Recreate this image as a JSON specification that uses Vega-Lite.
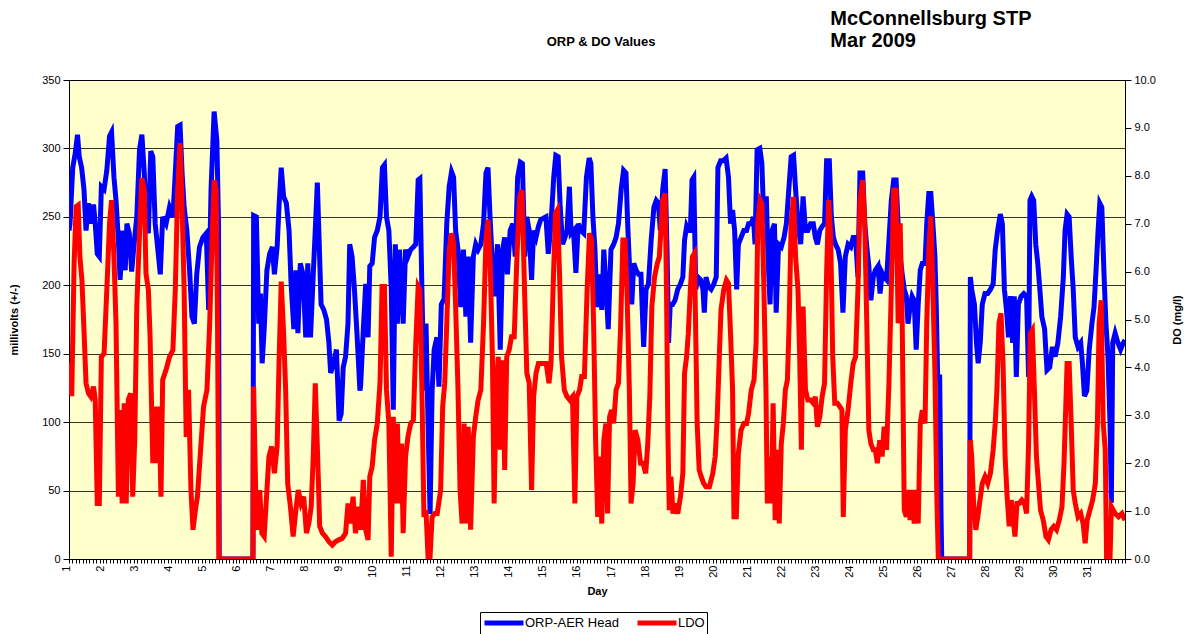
{
"$schema":"https://vega.github.io/schema/vega-lite/v6.json",
"width":1056,"height":479,
"autosize":{"type":"none"},
"padding":{"left":69,"top":80,"right":61,"bottom":75},
"background":"#ffffff",
"config":{"font":"Liberation Sans","view":{"fill":"#FFFFCC","stroke":"#000000","strokeWidth":1},
"axis":{"labelColor":"#000","titleColor":"#000","domainColor":"#000","tickColor":"#000","labelFontSize":11,"titleFontSize":11,"titleFontWeight":"bold"}},
"datasets":{
"orp":[
{"day":1.0,"orp":240},{"day":1.03,"orp":245},{"day":1.11,"orp":286},{"day":1.18,"orp":296},{"day":1.25,"orp":310},{"day":1.30,"orp":294},{"day":1.37,"orp":286},{"day":1.44,"orp":270},{"day":1.50,"orp":240},{"day":1.57,"orp":260},{"day":1.64,"orp":245},{"day":1.72,"orp":259},{"day":1.77,"orp":245},{"day":1.83,"orp":223},{"day":1.89,"orp":221},{"day":1.95,"orp":272},{"day":2.03,"orp":270},{"day":2.11,"orp":284},{"day":2.19,"orp":309},{"day":2.25,"orp":312},{"day":2.32,"orp":279},{"day":2.38,"orp":262},{"day":2.45,"orp":233},{"day":2.50,"orp":204},{"day":2.58,"orp":240},{"day":2.65,"orp":211},{"day":2.70,"orp":245},{"day":2.77,"orp":238},{"day":2.84,"orp":210},{"day":2.91,"orp":230},{"day":2.99,"orp":250},{"day":3.07,"orp":299},{"day":3.14,"orp":310},{"day":3.21,"orp":282},{"day":3.26,"orp":250},{"day":3.33,"orp":238},{"day":3.40,"orp":298},{"day":3.46,"orp":294},{"day":3.53,"orp":245},{"day":3.60,"orp":228},{"day":3.68,"orp":208},{"day":3.75,"orp":250},{"day":3.85,"orp":245},{"day":3.95,"orp":257},{"day":4.05,"orp":250},{"day":4.12,"orp":282},{"day":4.19,"orp":316},{"day":4.26,"orp":317},{"day":4.32,"orp":282},{"day":4.38,"orp":257},{"day":4.46,"orp":240},{"day":4.54,"orp":211},{"day":4.61,"orp":177},{"day":4.68,"orp":172},{"day":4.75,"orp":208},{"day":4.83,"orp":228},{"day":4.93,"orp":235},{"day":5.03,"orp":238},{"day":5.10,"orp":182},{"day":5.17,"orp":270},{"day":5.26,"orp":327},{"day":5.34,"orp":306},{"day":5.39,"orp":245},{"day":5.41,"orp":0},{"day":6.40,"orp":0},{"day":6.42,"orp":251},{"day":6.50,"orp":250},{"day":6.57,"orp":172},{"day":6.62,"orp":194},{"day":6.67,"orp":143},{"day":6.73,"orp":168},{"day":6.81,"orp":211},{"day":6.89,"orp":223},{"day":6.97,"orp":228},{"day":7.03,"orp":208},{"day":7.11,"orp":228},{"day":7.17,"orp":260},{"day":7.23,"orp":286},{"day":7.30,"orp":265},{"day":7.38,"orp":260},{"day":7.46,"orp":240},{"day":7.52,"orp":201},{"day":7.60,"orp":168},{"day":7.66,"orp":211},{"day":7.72,"orp":165},{"day":7.79,"orp":216},{"day":7.87,"orp":208},{"day":7.95,"orp":162},{"day":8.01,"orp":216},{"day":8.09,"orp":162},{"day":8.17,"orp":208},{"day":8.22,"orp":235},{"day":8.29,"orp":275},{"day":8.34,"orp":235},{"day":8.40,"orp":186},{"day":8.48,"orp":182},{"day":8.56,"orp":175},{"day":8.63,"orp":158},{"day":8.68,"orp":136},{"day":8.77,"orp":143},{"day":8.85,"orp":153},{"day":8.93,"orp":101},{"day":8.99,"orp":106},{"day":9.05,"orp":140},{"day":9.12,"orp":148},{"day":9.19,"orp":172},{"day":9.24,"orp":230},{"day":9.31,"orp":221},{"day":9.38,"orp":197},{"day":9.46,"orp":162},{"day":9.54,"orp":123},
{"day":9.56,"orp":126},{"day":9.64,"orp":168},{"day":9.71,"orp":201},{"day":9.78,"orp":162},{"day":9.83,"orp":214},{"day":9.90,"orp":216},{"day":9.97,"orp":235},{"day":10.05,"orp":240},{"day":10.13,"orp":250},{"day":10.20,"orp":286},{"day":10.26,"orp":288},{"day":10.32,"orp":250},{"day":10.39,"orp":240},{"day":10.46,"orp":197},{"day":10.52,"orp":109},{"day":10.58,"orp":230},{"day":10.64,"orp":172},{"day":10.70,"orp":226},{"day":10.76,"orp":197},{"day":10.81,"orp":172},{"day":10.88,"orp":226},{"day":10.95,"orp":221},{"day":11.03,"orp":226},{"day":11.11,"orp":228},{"day":11.18,"orp":230},{"day":11.25,"orp":277},{"day":11.30,"orp":278},{"day":11.36,"orp":197},{"day":11.42,"orp":123},{"day":11.48,"orp":172},{"day":11.54,"orp":99},{"day":11.60,"orp":33},{"day":11.66,"orp":123},{"day":11.72,"orp":153},{"day":11.80,"orp":162},{"day":11.86,"orp":126},{"day":11.93,"orp":186},{"day":12.01,"orp":190},{"day":12.09,"orp":245},{"day":12.16,"orp":272},{"day":12.23,"orp":283},{"day":12.29,"orp":279},{"day":12.35,"orp":240},{"day":12.42,"orp":226},{"day":12.50,"orp":184},{"day":12.58,"orp":226},{"day":12.65,"orp":177},{"day":12.72,"orp":221},{"day":12.79,"orp":158},{"day":12.87,"orp":221},{"day":12.94,"orp":230},{"day":13.01,"orp":226},{"day":13.09,"orp":230},{"day":13.17,"orp":245},{"day":13.24,"orp":282},{"day":13.30,"orp":286},{"day":13.36,"orp":250},{"day":13.43,"orp":216},{"day":13.50,"orp":192},{"day":13.58,"orp":230},{"day":13.66,"orp":153},{"day":13.73,"orp":226},{"day":13.79,"orp":235},{"day":13.87,"orp":208},{"day":13.95,"orp":240},{"day":14.03,"orp":245},{"day":14.10,"orp":221},{"day":14.17,"orp":279},{"day":14.25,"orp":290},{"day":14.31,"orp":289},{"day":14.38,"orp":221},{"day":14.44,"orp":250},{"day":14.51,"orp":240},{"day":14.58,"orp":204},{"day":14.64,"orp":240},{"day":14.71,"orp":235},{"day":14.78,"orp":243},{"day":14.85,"orp":248},{"day":14.93,"orp":249},{"day":15.00,"orp":250},{"day":15.07,"orp":223},{"day":15.15,"orp":245},{"day":15.23,"orp":279},{"day":15.29,"orp":295},{"day":15.36,"orp":294},{"day":15.42,"orp":257},{"day":15.49,"orp":230},{"day":15.56,"orp":235},{"day":15.62,"orp":240},{"day":15.69,"orp":272},{"day":15.74,"orp":238},{"day":15.81,"orp":240},{"day":15.88,"orp":209},{"day":15.95,"orp":245},{"day":16.03,"orp":240},{"day":16.11,"orp":238},{"day":16.19,"orp":279},{"day":16.27,"orp":293},{"day":16.32,"orp":289},{"day":16.38,"orp":250},{"day":16.44,"orp":226},{"day":16.50,"orp":184},{"day":16.57,"orp":208},{"day":16.64,"orp":182},{"day":16.70,"orp":226},{"day":16.77,"orp":197},{"day":16.83,"orp":168},{"day":16.91,"orp":226},{"day":16.99,"orp":230},{"day":17.06,"orp":235},{"day":17.13,"orp":245},{"day":17.21,"orp":270},{"day":17.28,"orp":284},{"day":17.35,"orp":282},{"day":17.40,"orp":245},{"day":17.46,"orp":211},{"day":17.52,"orp":186},{"day":17.58,"orp":216},{"day":17.65,"orp":211},{"day":17.72,"orp":208},{"day":17.79,"orp":208},{"day":17.87,"orp":155},{"day":17.94,"orp":197},{"day":18.01,"orp":201},{"day":18.09,"orp":233},{"day":18.17,"orp":257},{"day":18.24,"orp":262},{"day":18.30,"orp":260},{"day":18.36,"orp":240},
{"day":18.43,"orp":270},{"day":18.50,"orp":285},{"day":18.56,"orp":221},{"day":18.60,"orp":158},{"day":18.65,"orp":186},{"day":18.72,"orp":186},{"day":18.79,"orp":189},{"day":18.87,"orp":197},{"day":18.95,"orp":201},{"day":19.02,"orp":206},{"day":19.07,"orp":233},{"day":19.13,"orp":243},{"day":19.18,"orp":240},{"day":19.24,"orp":240},{"day":19.29,"orp":277},{"day":19.34,"orp":279},{"day":19.40,"orp":197},{"day":19.46,"orp":206},{"day":19.54,"orp":204},{"day":19.61,"orp":197},{"day":19.65,"orp":180},{"day":19.70,"orp":206},{"day":19.77,"orp":199},{"day":19.85,"orp":197},{"day":19.93,"orp":201},{"day":20.00,"orp":206},{"day":20.05,"orp":286},{"day":20.13,"orp":291},{"day":20.20,"orp":291},{"day":20.29,"orp":293},{"day":20.36,"orp":279},{"day":20.42,"orp":245},{"day":20.48,"orp":255},{"day":20.54,"orp":240},{"day":20.60,"orp":197},{"day":20.65,"orp":230},{"day":20.73,"orp":235},{"day":20.81,"orp":240},{"day":20.89,"orp":240},{"day":20.95,"orp":245},{"day":21.03,"orp":245},{"day":21.09,"orp":250},{"day":21.14,"orp":230},{"day":21.20,"orp":299},{"day":21.28,"orp":300},{"day":21.34,"orp":289},{"day":21.40,"orp":245},{"day":21.47,"orp":265},{"day":21.52,"orp":221},{"day":21.58,"orp":186},{"day":21.64,"orp":240},{"day":21.71,"orp":245},{"day":21.76,"orp":180},{"day":21.83,"orp":230},{"day":21.91,"orp":228},{"day":21.99,"orp":235},{"day":22.06,"orp":245},{"day":22.13,"orp":270},{"day":22.20,"orp":294},{"day":22.27,"orp":295},{"day":22.33,"orp":270},{"day":22.40,"orp":245},{"day":22.48,"orp":230},{"day":22.55,"orp":265},{"day":22.62,"orp":240},{"day":22.69,"orp":240},{"day":22.77,"orp":245},{"day":22.85,"orp":245},{"day":22.91,"orp":235},{"day":22.97,"orp":230},{"day":23.04,"orp":240},{"day":23.11,"orp":243},{"day":23.18,"orp":245},{"day":23.24,"orp":291},{"day":23.32,"orp":291},{"day":23.38,"orp":250},{"day":23.44,"orp":235},{"day":23.50,"orp":230},{"day":23.58,"orp":226},{"day":23.65,"orp":216},{"day":23.72,"orp":180},{"day":23.79,"orp":221},{"day":23.87,"orp":230},{"day":23.95,"orp":228},{"day":24.02,"orp":235},{"day":24.09,"orp":235},{"day":24.16,"orp":206},{"day":24.22,"orp":282},{"day":24.30,"orp":282},{"day":24.36,"orp":245},{"day":24.42,"orp":228},{"day":24.48,"orp":214},{"day":24.54,"orp":189},{"day":24.61,"orp":206},{"day":24.67,"orp":211},{"day":24.75,"orp":214},{"day":24.81,"orp":194},{"day":24.87,"orp":209},{"day":24.93,"orp":206},{"day":25.00,"orp":204},{"day":25.07,"orp":233},{"day":25.14,"orp":262},{"day":25.21,"orp":277},{"day":25.28,"orp":277},{"day":25.34,"orp":245},{"day":25.40,"orp":221},{"day":25.46,"orp":208},{"day":25.52,"orp":197},{"day":25.58,"orp":192},{"day":25.63,"orp":172},{"day":25.69,"orp":184},{"day":25.75,"orp":192},{"day":25.81,"orp":189},{"day":25.87,"orp":153},{"day":25.93,"orp":186},{"day":25.99,"orp":211},{"day":26.05,"orp":216},{"day":26.13,"orp":216},{"day":26.18,"orp":245},{"day":26.24,"orp":267},{"day":26.30,"orp":267},{"day":26.36,"orp":245},{"day":26.42,"orp":221},{"day":26.46,"orp":184},{"day":26.50,"orp":133},{"day":26.56,"orp":133},{"day":26.60,"orp":31},{"day":26.62,"orp":0},
{"day":27.44,"orp":0},{"day":27.46,"orp":206},{"day":27.50,"orp":197},{"day":27.58,"orp":186},{"day":27.64,"orp":158},{"day":27.69,"orp":143},{"day":27.75,"orp":158},{"day":27.81,"orp":186},{"day":27.89,"orp":194},{"day":27.97,"orp":194},{"day":28.05,"orp":197},{"day":28.13,"orp":201},{"day":28.19,"orp":226},{"day":28.26,"orp":240},{"day":28.34,"orp":252},{"day":28.40,"orp":245},{"day":28.46,"orp":197},{"day":28.52,"orp":182},{"day":28.58,"orp":162},{"day":28.64,"orp":192},{"day":28.70,"orp":158},{"day":28.75,"orp":192},{"day":28.81,"orp":133},{"day":28.87,"orp":186},{"day":28.95,"orp":192},{"day":29.03,"orp":194},{"day":29.11,"orp":192},{"day":29.17,"orp":133},{"day":29.21,"orp":262},{"day":29.26,"orp":265},{"day":29.32,"orp":262},{"day":29.38,"orp":230},{"day":29.44,"orp":216},{"day":29.50,"orp":197},{"day":29.56,"orp":177},{"day":29.64,"orp":168},{"day":29.71,"orp":138},{"day":29.79,"orp":140},{"day":29.87,"orp":155},{"day":29.95,"orp":148},{"day":30.03,"orp":158},{"day":30.11,"orp":177},{"day":30.19,"orp":206},{"day":30.24,"orp":240},{"day":30.30,"orp":252},{"day":30.36,"orp":250},{"day":30.42,"orp":221},{"day":30.48,"orp":197},{"day":30.54,"orp":162},{"day":30.62,"orp":155},{"day":30.70,"orp":158},{"day":30.75,"orp":143},{"day":30.81,"orp":119},{"day":30.88,"orp":123},{"day":30.95,"orp":153},{"day":31.03,"orp":172},{"day":31.09,"orp":184},{"day":31.15,"orp":211},{"day":31.21,"orp":240},{"day":31.26,"orp":260},{"day":31.32,"orp":257},{"day":31.38,"orp":211},{"day":31.44,"orp":172},{"day":31.50,"orp":148},{"day":31.56,"orp":99},{"day":31.60,"orp":41},{"day":31.64,"orp":158},{"day":31.71,"orp":165},{"day":31.79,"orp":158},{"day":31.87,"orp":153},{"day":31.95,"orp":158},{"day":32.0,"orp":160}
],
"do":[
{"day":1.0,"do":4.1},{"day":1.03,"do":4.0},{"day":1.08,"do":3.4},{"day":1.15,"do":6.17},{"day":1.21,"do":7.36},{"day":1.27,"do":7.39},{"day":1.32,"do":6.31},{"day":1.38,"do":5.82},{"day":1.44,"do":4.78},{"day":1.50,"do":3.67},{"day":1.57,"do":3.46},{"day":1.64,"do":3.39},{"day":1.72,"do":3.6},{"day":1.77,"do":3.32},{"day":1.83,"do":1.16},{"day":1.89,"do":1.16},{"day":1.95,"do":4.22},{"day":2.03,"do":4.29},{"day":2.11,"do":5.62},{"day":2.19,"do":7.01},{"day":2.25,"do":7.49},{"day":2.32,"do":6.31},{"day":2.38,"do":4.92},{"day":2.45,"do":1.30},{"day":2.50,"do":3.11},{"day":2.56,"do":1.16},{"day":2.62,"do":3.25},{"day":2.68,"do":1.16},{"day":2.74,"do":3.32},{"day":2.81,"do":3.46},{"day":2.87,"do":1.30},{"day":2.93,"do":2.48},{"day":2.99,"do":5.27},{"day":3.07,"do":6.80},{"day":3.14,"do":7.95},{"day":3.21,"do":7.70},{"day":3.26,"do":5.96},{"day":3.33,"do":5.62},{"day":3.38,"do":4.64},{"day":3.46,"do":2.0},{"day":3.52,"do":3.18},{"day":3.58,"do":2.0},{"day":3.64,"do":3.18},{"day":3.70,"do":1.30},{"day":3.75,"do":3.74},{"day":3.85,"do":3.95},{"day":3.95,"do":4.22},{"day":4.05,"do":4.36},{"day":4.12,"do":5.62},{"day":4.19,"do":7.70},{"day":4.26,"do":8.68},{"day":4.32,"do":7.36},{"day":4.38,"do":5.62},{"day":4.44,"do":2.55},{"day":4.51,"do":3.53},{"day":4.58,"do":1.44},{"day":4.64,"do":0.61},{"day":4.71,"do":1.02},{"day":4.77,"do":1.30},{"day":4.85,"do":2.14},{"day":4.95,"do":3.18},{"day":5.05,"do":3.53},{"day":5.13,"do":4.92},{"day":5.20,"do":6.66},{"day":5.26,"do":7.91},{"day":5.32,"do":7.70},{"day":5.36,"do":4.92},{"day":5.40,"do":0},{"day":6.40,"do":0},{"day":6.42,"do":3.60},{"day":6.48,"do":1.44},{"day":6.54,"do":0.61},{"day":6.60,"do":1.44},{"day":6.66,"do":0.54},{"day":6.73,"do":0.47},{"day":6.81,"do":1.44},{"day":6.87,"do":2.14},{"day":6.95,"do":2.35},{"day":7.03,"do":1.79},{"day":7.11,"do":2.35},{"day":7.17,"do":4.22},{"day":7.23,"do":5.79},{"day":7.30,"do":4.71},{"day":7.36,"do":3.53},{"day":7.42,"do":1.58},{"day":7.50,"do":1.09},{"day":7.58,"do":0.47},{"day":7.66,"do":1.02},{"day":7.73,"do":1.44},{"day":7.81,"do":1.16},{"day":7.89,"do":1.30},{"day":7.97,"do":0.54},{"day":8.04,"do":0.74},{"day":8.11,"do":1.09},{"day":8.17,"do":2.14},{"day":8.23,"do":3.67},{"day":8.30,"do":2.14},{"day":8.36,"do":0.68},{"day":8.44,"do":0.54},{"day":8.53,"do":0.47},{"day":8.63,"do":0.36},{"day":8.73,"do":0.29},{"day":8.82,"do":0.36},{"day":8.92,"do":0.40},{"day":9.02,"do":0.43},{"day":9.12,"do":0.54},{"day":9.19,"do":1.16},{"day":9.26,"do":0.74},{"day":9.34,"do":1.30},{"day":9.41,"do":0.54},{"day":9.51,"do":1.09},
{"day":9.56,"do":0.61},{"day":9.64,"do":1.65},{"day":9.71,"do":0.61},{"day":9.78,"do":0.40},{"day":9.83,"do":1.72},{"day":9.90,"do":1.93},{"day":9.97,"do":2.48},{"day":10.05,"do":2.83},{"day":10.13,"do":3.67},{"day":10.19,"do":5.69},{"day":10.26,"do":5.69},{"day":10.32,"do":3.53},{"day":10.39,"do":2.83},{"day":10.46,"do":0.05},{"day":10.52,"do":2.97},{"day":10.58,"do":1.16},{"day":10.64,"do":2.83},{"day":10.70,"do":1.16},{"day":10.76,"do":2.41},{"day":10.81,"do":0.54},{"day":10.88,"do":2.14},{"day":10.95,"do":2.55},{"day":11.03,"do":2.83},{"day":11.11,"do":2.90},{"day":11.18,"do":4.50},{"day":11.25,"do":5.69},{"day":11.30,"do":5.62},{"day":11.36,"do":3.53},{"day":11.42,"do":0.88},{"day":11.48,"do":1.02},{"day":11.54,"do":0.05},{"day":11.60,"do":0.05},{"day":11.66,"do":0.88},{"day":11.74,"do":0.95},{"day":11.81,"do":0.95},{"day":11.91,"do":1.44},{"day":11.97,"do":3.18},{"day":12.03,"do":3.67},{"day":12.09,"do":4.92},{"day":12.16,"do":6.45},{"day":12.23,"do":6.80},{"day":12.29,"do":6.59},{"day":12.35,"do":5.27},{"day":12.42,"do":3.53},{"day":12.48,"do":1.44},{"day":12.54,"do":0.74},{"day":12.60,"do":2.83},{"day":12.66,"do":0.74},{"day":12.72,"do":2.76},{"day":12.79,"do":0.61},{"day":12.87,"do":2.55},{"day":12.94,"do":2.97},{"day":13.01,"do":3.32},{"day":13.09,"do":3.53},{"day":13.17,"do":4.92},{"day":13.24,"do":6.66},{"day":13.30,"do":7.08},{"day":13.36,"do":6.31},{"day":13.43,"do":4.22},{"day":13.48,"do":1.16},{"day":13.54,"do":3.53},{"day":13.60,"do":4.22},{"day":13.66,"do":2.28},{"day":13.73,"do":4.15},{"day":13.79,"do":1.86},{"day":13.85,"do":4.22},{"day":13.92,"do":4.36},{"day":13.99,"do":4.64},{"day":14.07,"do":4.64},{"day":14.15,"do":6.31},{"day":14.23,"do":7.56},{"day":14.30,"do":7.70},{"day":14.36,"do":5.96},{"day":14.44,"do":3.88},{"day":14.51,"do":3.67},{"day":14.58,"do":1.44},{"day":14.64,"do":3.39},{"day":14.71,"do":3.88},{"day":14.78,"do":4.08},{"day":14.85,"do":4.08},{"day":14.93,"do":4.08},{"day":15.01,"do":4.08},{"day":15.09,"do":3.67},{"day":15.15,"do":4.08},{"day":15.21,"do":5.62},{"day":15.28,"do":7.22},{"day":15.34,"do":7.29},{"day":15.40,"do":5.96},{"day":15.46,"do":4.22},{"day":15.54,"do":3.53},{"day":15.62,"do":3.39},{"day":15.70,"do":3.32},{"day":15.78,"do":3.39},{"day":15.85,"do":1.16},{"day":15.91,"do":3.39},{"day":15.99,"do":3.53},{"day":16.05,"do":3.81},{"day":16.13,"do":3.81},{"day":16.21,"do":5.62},{"day":16.28,"do":6.80},{"day":16.34,"do":6.66},{"day":16.40,"do":4.92},{"day":16.46,"do":2.48},{"day":16.52,"do":0.88},{"day":16.58,"do":2.14},{"day":16.64,"do":0.74},{"day":16.70,"do":2.48},{"day":16.76,"do":2.83},{"day":16.81,"do":0.95},{"day":16.87,"do":2.97},{"day":16.93,"do":3.11},{"day":16.99,"do":2.83},{"day":17.06,"do":3.53},{"day":17.13,"do":3.67},{"day":17.19,"do":4.78},{"day":17.26,"do":6.66},{"day":17.32,"do":6.66},{"day":17.38,"do":5.62},{"day":17.45,"do":3.53},{"day":17.50,"do":1.16},{"day":17.56,"do":1.58},{"day":17.62,"do":2.69},{"day":17.70,"do":2.48},{"day":17.78,"do":2.00},{"day":17.85,"do":2.00},{"day":17.93,"do":1.79},{"day":17.99,"do":2.41},{"day":18.05,"do":3.39},{"day":18.11,"do":5.27},{"day":18.19,"do":5.89},{"day":18.27,"do":6.17},{"day":18.33,"do":6.31},
{"day":18.43,"do":7.49},{"day":18.50,"do":7.63},{"day":18.54,"do":5.62},{"day":18.58,"do":2.69},{"day":18.62,"do":1.02},{"day":18.67,"do":1.72},{"day":18.73,"do":0.95},{"day":18.79,"do":1.16},{"day":18.87,"do":0.95},{"day":18.95,"do":1.30},{"day":19.02,"do":1.79},{"day":19.07,"do":3.88},{"day":19.13,"do":4.22},{"day":19.18,"do":4.71},{"day":19.24,"do":5.62},{"day":19.30,"do":6.31},{"day":19.36,"do":6.38},{"day":19.40,"do":4.64},{"day":19.44,"do":2.83},{"day":19.50,"do":1.86},{"day":19.56,"do":1.72},{"day":19.63,"do":1.58},{"day":19.70,"do":1.51},{"day":19.80,"do":1.51},{"day":19.90,"do":1.79},{"day":19.97,"do":2.14},{"day":20.03,"do":2.97},{"day":20.09,"do":4.22},{"day":20.14,"do":5.20},{"day":20.22,"do":5.62},{"day":20.30,"do":5.82},{"day":20.36,"do":5.75},{"day":20.42,"do":4.71},{"day":20.48,"do":3.53},{"day":20.52,"do":0.88},{"day":20.59,"do":0.88},{"day":20.65,"do":2.21},{"day":20.73,"do":2.69},{"day":20.81,"do":2.83},{"day":20.89,"do":2.83},{"day":20.95,"do":3.04},{"day":21.03,"do":3.53},{"day":21.11,"do":3.74},{"day":21.17,"do":4.50},{"day":21.22,"do":7.01},{"day":21.29,"do":7.49},{"day":21.34,"do":7.42},{"day":21.40,"do":5.62},{"day":21.46,"do":3.53},{"day":21.50,"do":1.16},{"day":21.56,"do":2.14},{"day":21.62,"do":1.16},{"day":21.67,"do":3.25},{"day":21.73,"do":0.81},{"day":21.79,"do":2.28},{"day":21.85,"do":0.74},{"day":21.91,"do":2.41},{"day":21.97,"do":2.83},{"day":22.03,"do":3.53},{"day":22.09,"do":3.74},{"day":22.14,"do":4.92},{"day":22.20,"do":7.01},{"day":22.27,"do":7.56},{"day":22.33,"do":6.31},{"day":22.40,"do":5.62},{"day":22.45,"do":4.22},{"day":22.50,"do":2.28},{"day":22.55,"do":5.27},{"day":22.62,"do":3.53},{"day":22.69,"do":3.32},{"day":22.77,"do":3.32},{"day":22.85,"do":3.25},{"day":22.91,"do":3.39},{"day":22.97,"do":2.76},{"day":23.04,"do":2.97},{"day":23.11,"do":3.39},{"day":23.18,"do":3.67},{"day":23.24,"do":5.96},{"day":23.30,"do":7.49},{"day":23.36,"do":6.73},{"day":23.42,"do":4.22},{"day":23.48,"do":3.25},{"day":23.56,"do":3.25},{"day":23.63,"do":3.18},{"day":23.69,"do":3.11},{"day":23.73,"do":0.88},{"day":23.79,"do":2.69},{"day":23.87,"do":3.11},{"day":23.95,"do":3.67},{"day":24.02,"do":4.08},{"day":24.09,"do":4.22},{"day":24.16,"do":5.62},{"day":24.22,"do":7.49},{"day":24.30,"do":7.91},{"day":24.36,"do":7.01},{"day":24.42,"do":4.92},{"day":24.48,"do":2.69},{"day":24.54,"do":2.41},{"day":24.61,"do":2.28},{"day":24.67,"do":2.28},{"day":24.73,"do":2.00},{"day":24.80,"do":2.48},{"day":24.87,"do":2.14},{"day":24.93,"do":2.76},{"day":25.00,"do":2.28},{"day":25.07,"do":3.67},{"day":25.14,"do":5.62},{"day":25.21,"do":7.70},{"day":25.28,"do":7.70},{"day":25.34,"do":4.92},{"day":25.40,"do":7.01},{"day":25.46,"do":4.92},{"day":25.52,"do":1.02},{"day":25.58,"do":0.88},{"day":25.63,"do":1.44},{"day":25.69,"do":0.81},{"day":25.75,"do":1.44},{"day":25.81,"do":0.74},{"day":25.87,"do":1.44},{"day":25.93,"do":0.74},{"day":25.99,"do":2.83},{"day":26.05,"do":3.11},{"day":26.13,"do":2.83},{"day":26.18,"do":4.92},{"day":26.24,"do":6.45},{"day":26.30,"do":7.15},{"day":26.36,"do":5.62},{"day":26.42,"do":3.88},{"day":26.48,"do":1.16},{"day":26.52,"do":0},
{"day":27.44,"do":0},{"day":27.46,"do":2.48},{"day":27.50,"do":2.14},{"day":27.56,"do":1.09},{"day":27.62,"do":0.61},{"day":27.68,"do":0.88},{"day":27.73,"do":1.16},{"day":27.81,"do":1.58},{"day":27.89,"do":1.72},{"day":27.97,"do":1.58},{"day":28.05,"do":1.79},{"day":28.13,"do":2.28},{"day":28.19,"do":2.83},{"day":28.24,"do":3.53},{"day":28.30,"do":4.92},{"day":28.36,"do":5.13},{"day":28.42,"do":4.08},{"day":28.48,"do":2.14},{"day":28.54,"do":1.30},{"day":28.60,"do":0.68},{"day":28.66,"do":1.23},{"day":28.71,"do":0.88},{"day":28.77,"do":0.47},{"day":28.83,"do":1.16},{"day":28.89,"do":1.16},{"day":28.97,"do":1.23},{"day":29.05,"do":1.16},{"day":29.11,"do":0.95},{"day":29.17,"do":2.41},{"day":29.22,"do":4.71},{"day":29.28,"do":4.78},{"day":29.34,"do":3.53},{"day":29.40,"do":2.14},{"day":29.46,"do":1.58},{"day":29.52,"do":1.02},{"day":29.60,"do":0.81},{"day":29.68,"do":0.47},{"day":29.75,"do":0.40},{"day":29.83,"do":0.61},{"day":29.91,"do":0.68},{"day":29.99,"do":0.61},{"day":30.07,"do":0.81},{"day":30.15,"do":1.09},{"day":30.21,"do":2.00},{"day":30.24,"do":2.69},{"day":30.30,"do":4.08},{"day":30.36,"do":4.08},{"day":30.42,"do":2.83},{"day":30.48,"do":1.44},{"day":30.54,"do":1.16},{"day":30.62,"do":0.88},{"day":30.70,"do":0.95},{"day":30.77,"do":0.74},{"day":30.83,"do":0.33},{"day":30.89,"do":0.81},{"day":30.97,"do":1.02},{"day":31.05,"do":1.23},{"day":31.13,"do":1.58},{"day":31.19,"do":2.83},{"day":31.24,"do":4.92},{"day":31.30,"do":5.4},{"day":31.36,"do":2.83},{"day":31.42,"do":2.28},{"day":31.46,"do":0},{"day":31.56,"do":0},{"day":31.60,"do":1.09},{"day":31.71,"do":0.95},{"day":31.81,"do":0.88},{"day":31.91,"do":0.95},{"day":32.0,"do":0.81}
]
},
"layer":[
{"layer":[
{"data":{"name":"orp"},"mark":{"type":"line","strokeWidth":5,"clip":true,"color":"#0000FF"},
"encoding":{
"x":{"field":"day","type":"quantitative","scale":{"domain":[1,32],"nice":false,"zero":false},
"axis":{"title":"Day","tickCount":310,"labelExpr":"datum.value % 1 === 0 && datum.value < 32 ? format(datum.value, 'd') : ''","labelAngle":270,"labelAlign":"right","labelBaseline":"middle","labelOverlap":false,"labelFlush":false,"labelBound":false,"labelOffset":-3,"grid":false,"tickSize":4,"labelPadding":2,"titlePadding":8}},
"y":{"field":"orp","type":"quantitative","scale":{"domain":[0,350],"nice":false},
"axis":{"title":"millivolts (+/-)","values":[0,50,100,150,200,250,300,350],"grid":true,"gridColor":"#000","gridWidth":1,"gridOpacity":0.8,"tickSize":6,"labelPadding":3,"titlePadding":22}},
"color":{"datum":"ORP-AER Head","type":"nominal","scale":{"domain":["ORP-AER Head","LDO"],"range":["#0000FF","#FF0000"]},
"legend":{"title":null,"orient":"none","legendX":411,"legendY":532,"direction":"horizontal","strokeColor":"#000","padding":2,"symbolType":"M-1,0H5","symbolSize":169,"symbolStrokeWidth":5,"labelFontSize":13,"labelOffset":25,"columnPadding":8,"labelColor":"#000"}}
}},
{"data":{"values":[{}]},"mark":{"type":"text","text":["McConnellsburg STP","Mar 2009"],"align":"left","baseline":"top","fontSize":20,"fontWeight":"bold","lineHeight":22,"color":"#000"},
"encoding":{"x":{"datum":23.35,"type":"quantitative","scale":{"domain":[1,32],"nice":false,"zero":false}},"y":{"datum":402,"type":"quantitative","scale":{"domain":[0,350],"nice":false}}}},
{"data":{"values":[{}]},"mark":{"type":"text","text":"ORP & DO Values","align":"center","baseline":"middle","fontSize":13,"fontWeight":"bold","color":"#000"},
"encoding":{"x":{"datum":16.62,"type":"quantitative","scale":{"domain":[1,32],"nice":false,"zero":false}},"y":{"datum":378,"type":"quantitative","scale":{"domain":[0,350],"nice":false}}}}
]},
{"data":{"name":"do"},"mark":{"type":"line","strokeWidth":5,"clip":true},
"encoding":{
"x":{"field":"day","type":"quantitative","scale":{"domain":[1,32],"nice":false,"zero":false}},
"y":{"field":"do","type":"quantitative","scale":{"domain":[0,10],"nice":false},
"axis":{"orient":"right","title":"DO (mg/l)","titleAngle":270,"values":[0,1,2,3,4,5,6,7,8,9,10],"format":".1f","grid":false,"tickSize":6,"labelPadding":3,"titlePadding":27}},
"color":{"datum":"LDO","type":"nominal"}
}}
],
"resolve":{"scale":{"y":"independent"}}
}
